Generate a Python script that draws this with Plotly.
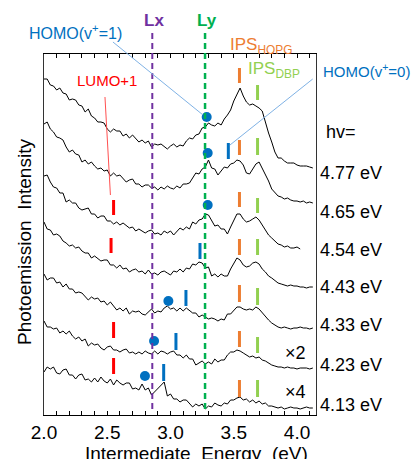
import plotly.graph_objects as go

# ---------------- data ----------------
ENERGY = [2.000, 2.025, 2.050, 2.075, 2.100, 2.125, 2.150, 2.175, 2.200, 2.225,
          2.250, 2.275, 2.300, 2.325, 2.350, 2.375, 2.400, 2.425, 2.450, 2.475,
          2.500, 2.525, 2.550, 2.575, 2.600, 2.625, 2.650, 2.675, 2.700, 2.725,
          2.750, 2.775, 2.800, 2.825, 2.850, 2.875, 2.900, 2.925, 2.950, 2.975,
          3.000, 3.025, 3.050, 3.075, 3.100, 3.125, 3.150, 3.175, 3.200, 3.225,
          3.250, 3.275, 3.300, 3.325, 3.350, 3.375, 3.400, 3.425, 3.450, 3.475,
          3.500, 3.525, 3.550, 3.575, 3.600, 3.625, 3.650, 3.675, 3.700, 3.725,
          3.750, 3.775, 3.800, 3.825, 3.850, 3.875, 3.900, 3.925, 3.950, 3.975,
          4.000, 4.025, 4.050, 4.075, 4.100, 4.125]

# intensities (already vertically offset, arbitrary units)
SPEC_477 = [336, 336, 330, 329, 325, 327, 322, 321, 315, 316,
            315, 310, 309, 303, 306, 299, 297, 293, 293, 292,
            286, 283, 286, 284, 284, 279, 281, 277, 280, 276,
            273, 275, 272, 274, 268, 271, 270, 271, 268, 266,
            269, 271, 268, 270, 269, 274, 277, 276, 280, 281,
            287, 288, 292, 290, 289, 292, 290, 296, 300, 305,
            314, 321, 327, 319, 313, 310, 311, 309, 307, 304,
            292, 282, 273, 263, 257, 257, 254, 252, 252, 252,
            250, 249, 249, 249, 248, 247]
SPEC_465 = [291, 293, 286, 283, 278, 277, 275, 268, 263, 265,
            261, 260, 253, 255, 251, 253, 249, 246, 247, 244,
            245, 239, 242, 239, 240, 236, 233, 235, 236, 231,
            231, 228, 230, 230, 227, 228, 225, 228, 226, 229,
            227, 226, 229, 227, 231, 231, 232, 237, 242, 241,
            246, 248, 255, 247, 246, 240, 244, 248, 247, 251,
            252, 255, 254, 250, 242, 241, 246, 251, 253, 247,
            240, 234, 226, 223, 219, 218, 216, 217, 215, 214,
            214, 213, 214, 212, 213, 212]
SPEC_454 = [239, 240, 233, 228, 227, 222, 222, 213, 215, 212,
            212, 207, 205, 206, 207, 201, 201, 197, 199, 199,
            194, 194, 191, 193, 190, 192, 189, 187, 188, 184,
            186, 184, 182, 184, 185, 181, 182, 180, 184, 182,
            184, 180, 184, 187, 185, 188, 186, 193, 191, 195,
            196, 201, 200, 194, 189, 190, 186, 186, 181, 188,
            195, 201, 201, 196, 193, 194, 196, 198, 195, 190,
            186, 180, 177, 174, 171, 170, 168, 169, 167, 167,
            168, 166]
SPEC_443 = [193, 186, 185, 180, 181, 179, 174, 172, 169, 170,
            167, 168, 164, 162, 162, 157, 159, 156, 154, 155,
            155, 150, 150, 147, 150, 146, 147, 143, 145, 146,
            143, 144, 141, 145, 141, 142, 140, 143, 144, 142,
            140, 144, 143, 146, 143, 147, 146, 151, 150, 153,
            152, 147, 148, 139, 141, 138, 141, 139, 139, 146,
            151, 157, 155, 150, 148, 149, 152, 153, 151, 146,
            143, 139, 137, 134, 132, 131, 130, 129, 130, 129,
            129, 128, 128, 127, 128, 128]
SPEC_433 = [141, 135, 137, 137, 132, 133, 128, 131, 126, 126,
            122, 123, 122, 118, 115, 118, 116, 117, 113, 114,
            110, 113, 109, 105, 107, 104, 107, 101, 104, 103,
            104, 101, 100, 103, 106, 102, 104, 103, 107, 109,
            106, 107, 104, 107, 104, 107, 104, 102, 102, 98,
            100, 98, 96, 97, 96, 94, 96, 95, 101, 101,
            105, 108, 108, 106, 105, 106, 105, 108, 106, 102,
            98, 95, 92, 90, 88, 87, 88, 87, 86, 87,
            87, 88, 87, 87, 86, 87]
SPEC_423 = [94, 88, 88, 86, 87, 82, 84, 81, 84, 79,
            76, 78, 74, 76, 69, 72, 70, 71, 67, 65,
            68, 69, 65, 65, 63, 65, 66, 62, 63, 61,
            63, 61, 64, 62, 61, 64, 61, 64, 63, 61,
            63, 64, 60, 60, 57, 60, 56, 56, 50, 52,
            54, 51, 53, 51, 56, 53, 55, 55, 60, 63,
            63, 65, 64, 62, 60, 58, 59, 57, 58, 55,
            54, 52, 50, 49, 48, 48, 47, 48, 47, 47,
            46, 47, 47, 47, 46, 47]
SPEC_413 = [43, 48, 46, 48, 42, 41, 45, 46, 40, 40,
            36, 40, 41, 35, 36, 33, 37, 33, 38, 34,
            32, 36, 30, 35, 32, 30, 32, 32, 26, 27,
            25, 31, 25, 27, 20, 23, 26, 29, 33, 19,
            21, 16, 16, 13, 15, 15, 11, 8, 11, 9,
            11, 6, 9, 8, 12, 10, 9, 12, 11, 15,
            15, 17, 18, 15, 16, 13, 15, 12, 14, 11,
            12, 9, 9, 8, 7, 8, 6, 7, 8, 7,
            7, 6, 7, 8, 7, 7]

SPECTRA = [SPEC_477, SPEC_465, SPEC_454, SPEC_443, SPEC_433, SPEC_423, SPEC_413]
PHOTON_LABELS = ["4.77 eV", "4.65 eV", "4.54 eV", "4.43 eV", "4.33 eV", "4.23 eV", "4.13 eV"]

# marker bars (energy, low, high)
HOPG_E = 3.545
HOPG_LO = [332, 260, 208, 160, 113, 68, 18]
HOPG_HI = [347, 275, 223, 176, 130, 84, 35]
DBP_E = 3.688
DBP_LO = [315, 260, 202, 160, 110, 62, 18]
DBP_HI = [330, 277, 217, 176, 127, 78, 35]
HOMO0_E = [3.457, 3.233, 3.122, 3.043, 2.946]
HOMO0_LO = [256, 156, 109, 65, 34]
HOMO0_HI = [272, 172, 125, 82, 51]
LUMO_E = [2.55, 2.53, 2.55, 2.55]
LUMO_LO = [200, 162, 77, 41]
LUMO_HI = [215, 177, 93, 57]
HOMO1_E = [3.286, 3.294, 3.294, 2.983, 2.870, 2.798]
HOMO1_Y = [298, 262, 210, 114, 74, 39]

LX_E = 2.856
LY_E = 3.273
DASH_Y = [6, 384]

LEAD_HOMO1_E = [2.545, 3.257]
LEAD_HOMO1_Y = [373, 300]
LEAD_HOMO0_E = [4.124, 3.47]
LEAD_HOMO0_Y = [336, 270]
LEAD_LUMO_E = [2.482, 2.525]
LEAD_LUMO_Y = [318, 220]

X_TICKS = [2.0, 2.5, 3.0, 3.5, 4.0]
X_TICK_TEXT = ["2.0", "2.5", "3.0", "3.5", "4.0"]

# ---------------- figure ----------------
FONT = "Liberation Sans, Arial, sans-serif"
W, H = 414, 459
ML, MR, MT, MB = 44, 98, 20, 44
PLOT_W = W - ML - MR
PLOT_H = H - MT - MB
BOX_TOP = 54  # pixel row of the top frame


def pxx(p):
    return (p - ML) / PLOT_W


def pxy(p):
    return (H - MB - p) / PLOT_H


fig = go.Figure()

for spec in SPECTRA:
    fig.add_trace(go.Scatter(x=ENERGY[:len(spec)], y=spec, mode="lines",
                             line=dict(color="black", width=1), showlegend=False,
                             hoverinfo="skip"))


def bars(xs, lo, hi, color, width=3):
    if not isinstance(xs, list):
        xs = [xs] * len(lo)
    bx, by = [], []
    for e, a, b in zip(xs, lo, hi):
        bx += [e, e, None]
        by += [a, b, None]
    fig.add_trace(go.Scatter(x=bx, y=by, mode="lines", line=dict(color=color, width=width),
                             showlegend=False, hoverinfo="skip"))


bars(HOPG_E, HOPG_LO, HOPG_HI, "#ED7D31")
bars(DBP_E, DBP_LO, DBP_HI, "#92D050")
bars(HOMO0_E, HOMO0_LO, HOMO0_HI, "#0070C0")
bars(LUMO_E, LUMO_LO, LUMO_HI, "#FF0000")

fig.add_trace(go.Scatter(x=HOMO1_E, y=HOMO1_Y, mode="markers",
                         marker=dict(color="#0070C0", size=10), showlegend=False,
                         hoverinfo="skip", cliponaxis=False))

# overlay subplot (not clipped by the frame) for dashed lines and leader lines
fig.add_trace(go.Scatter(x=[LX_E, LX_E], y=DASH_Y, mode="lines", xaxis="x2", yaxis="y2",
                         line=dict(color="#7030A0", width=2, dash="6px,4px"),
                         showlegend=False, hoverinfo="skip"))
fig.add_trace(go.Scatter(x=[LY_E, LY_E], y=DASH_Y, mode="lines", xaxis="x2", yaxis="y2",
                         line=dict(color="#00B050", width=2.5, dash="6px,4px"),
                         showlegend=False, hoverinfo="skip"))
fig.add_trace(go.Scatter(x=LEAD_HOMO1_E, y=LEAD_HOMO1_Y, mode="lines", xaxis="x2", yaxis="y2",
                         line=dict(color="#7FB2E5", width=1), showlegend=False, hoverinfo="skip"))
fig.add_trace(go.Scatter(x=LEAD_HOMO0_E, y=LEAD_HOMO0_Y, mode="lines", xaxis="x2", yaxis="y2",
                         line=dict(color="#7FB2E5", width=1), showlegend=False, hoverinfo="skip"))
fig.add_trace(go.Scatter(x=LEAD_LUMO_E, y=LEAD_LUMO_Y, mode="lines", xaxis="x2", yaxis="y2",
                         line=dict(color="#FF5050", width=1), showlegend=False, hoverinfo="skip"))

X_RANGE = [2.0, 4.15]
Y_TOP = H - MB - BOX_TOP

fig.update_layout(
    width=W, height=H,
    margin=dict(l=ML, r=MR, t=MT, b=MB, pad=0),
    paper_bgcolor="white", plot_bgcolor="rgba(0,0,0,0)",
    font=dict(family=FONT, color="black"),
    xaxis=dict(range=X_RANGE, domain=[0, 1], anchor="y", showgrid=False, zeroline=False,
               showline=True, linecolor="black", linewidth=1, mirror="ticks",
               ticks="inside", ticklen=4, tickcolor="black", tickwidth=1,
               tickvals=X_TICKS, ticktext=X_TICK_TEXT,
               tickfont=dict(size=19, family=FONT, color="black"),
               minor=dict(dtick=0.1, tick0=2.0, ticks="inside", ticklen=4, tickcolor="black")),
    yaxis=dict(range=[0, Y_TOP], domain=[0, Y_TOP / PLOT_H], anchor="x", showgrid=False,
               zeroline=False, showline=True, linecolor="#333333", linewidth=1, mirror=True,
               ticks="", showticklabels=False),
    xaxis2=dict(range=X_RANGE, domain=[0, 1], anchor="y2", visible=False),
    yaxis2=dict(range=[0, PLOT_H], domain=[0, 1], anchor="x2", visible=False),
    showlegend=False,
)

ann = []


def add(text, x, y, size, color="black", xanchor="center", yanchor="middle", angle=0):
    ann.append(dict(text=text, x=pxx(x), y=pxy(y), xref="paper", yref="paper",
                    showarrow=False, xanchor=xanchor, yanchor=yanchor, textangle=angle,
                    font=dict(size=size, color=color, family=FONT)))


add("HOMO(v<sup>+</sup>=1)", 75, 32, 16, "#0070C0")
add("<b>Lx</b>", 153.5, 20, 17, "#7030A0")
add("<b>Ly</b>", 207, 20, 17, "#00B050")
add("IPS<sub>HOPG</sub>", 228, 46, 17, "#ED7D31", xanchor="left")
add("IPS<sub>DBP</sub>", 246, 70, 17, "#92D050", xanchor="left")
add("HOMO(v<sup>+</sup>=0)", 321, 70, 15, "#0070C0", xanchor="left")
add("LUMO+1", 107, 80, 15, "#FF0000")
add("hv=", 324, 132, 18, xanchor="left")
for lab, yy in zip(PHOTON_LABELS, [173, 212, 250, 287, 325, 365, 405]):
    add(lab, 318, yy, 18, xanchor="left")
add("×2", 295, 353, 18)
add("×4", 295, 392, 18)
add("Intermediate  Energy  (eV)", 196, 453, 19)
add("Photoemission  Intensity", 24, 242, 19, angle=-90)

fig.update_layout(annotations=ann)

fig.write_html("out.html", config={"displayModeBar": False},
               post_script="document.body.style.margin='0';document.body.style.overflow='hidden';")
